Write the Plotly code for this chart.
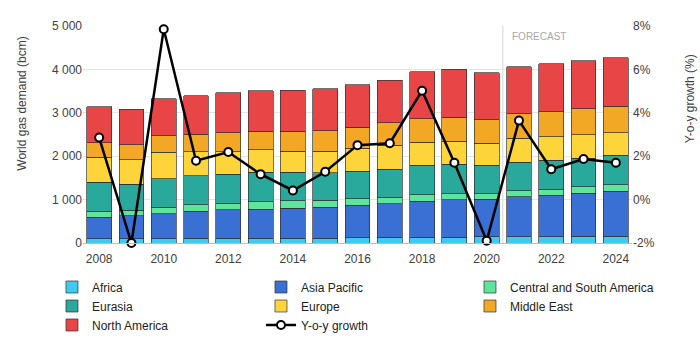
import plotly.graph_objects as go

# World gas demand by region (bcm) and year-on-year growth (%)
years = list(range(2008, 2025))

africa = [100, 100, 100, 107, 107, 107, 107, 115, 123, 130, 138, 138, 146, 146, 146, 153, 161]
asia_pacific = [498, 529, 575, 629, 660, 675, 691, 706, 744, 775, 828, 859, 866, 920, 951, 990, 1028]
central_south_america = [138, 123, 153, 146, 153, 169, 176, 168, 153, 153, 146, 138, 123, 138, 138, 153, 153]
eurasia = [660, 605, 652, 667, 667, 675, 652, 629, 636, 644, 682, 682, 652, 659, 667, 652, 675]
europe = [575, 560, 606, 552, 514, 521, 483, 491, 522, 553, 530, 530, 514, 553, 552, 544, 529]
middle_east = [337, 345, 383, 407, 445, 430, 468, 483, 491, 521, 544, 552, 544, 567, 567, 598, 606]
north_america = [836, 821, 859, 882, 913, 928, 943, 966, 981, 974, 1074, 1104, 1081, 1081, 1105, 1105, 1120]

growth = [2.86, -2.0, 7.85, 1.79, 2.19, 1.17, 0.42, 1.28, 2.51, 2.60, 5.02, 1.70, -1.9, 3.64, 1.40, 1.87, 1.70]

x_ticks = list(range(2008, 2025, 2))
growth_ticks = [-2, 0, 2, 4, 6, 8]
growth_tick_text = ["-2%", "0%", "2%", "4%", "6%", "8%"]

forecast_start = 2020.5

FONT = "Liberation Sans, Arial, sans-serif"
TEXT = "#404040"

# name, values, colour, legend column
regions = [
    ("Africa", africa, "#3fcaf0", "c1"),
    ("Asia Pacific", asia_pacific, "#3a6fd3", "c2"),
    ("Central and South America", central_south_america, "#5ee59c", "c3"),
    ("Eurasia", eurasia, "#29a89c", "c1"),
    ("Europe", europe, "#fdd43a", "c2"),
    ("Middle East", middle_east, "#f2a725", "c3"),
    ("North America", north_america, "#e84547", "c1"),
]

fig = go.Figure()

for name, values, color, column in regions:
    fig.add_trace(go.Bar(
        x=years, y=values, name=name, legendgroup=column,
        legendwidth=150 if column == "c3" else None,
        marker=dict(color=color, line=dict(color="rgba(45,45,45,0.85)", width=0.8)),
    ))

fig.add_trace(go.Scatter(
    x=years, y=growth, name="Y-o-y growth", yaxis="y2", legendgroup="c2",
    mode="lines+markers", cliponaxis=False,
    line=dict(color="black", width=2.5),
    marker=dict(size=8, color="white", line=dict(color="black", width=2)),
))

fig.add_shape(
    type="line", xref="x", yref="paper", x0=forecast_start, x1=forecast_start, y0=0, y1=1,
    line=dict(color="#d4d4d4", width=1), layer="below",
)
fig.add_annotation(
    x=forecast_start, y=4750, xref="x", yref="y", text="FORECAST", showarrow=False,
    xanchor="left", xshift=7, font=dict(family=FONT, size=10, color="#a8a8a8"),
)

# Axis titles, placed in the margins
fig.add_annotation(
    x=-0.1117, y=0.645, xref="paper", yref="paper", text="World gas demand (bcm)",
    textangle=-90, showarrow=False, xanchor="center", yanchor="middle",
    font=dict(family=FONT, size=12, color=TEXT),
)
fig.add_annotation(
    x=1.1069, y=0.666, xref="paper", yref="paper", text="Y-o-y growth (%)",
    textangle=-90, showarrow=False, xanchor="center", yanchor="middle",
    font=dict(family=FONT, size=12, color=TEXT),
)

fig.update_layout(
    width=700, height=339,
    margin=dict(l=83, r=68, t=26, b=96, autoexpand=False),
    paper_bgcolor="white", plot_bgcolor="white",
    barmode="stack", bargap=0.23,
    separators=". ",
    font=dict(family=FONT, size=12, color=TEXT),
    xaxis=dict(
        range=[2007.5, 2024.5], tickmode="array", tickvals=x_ticks,
        showgrid=False, showline=True, linecolor="#bdbdbd", linewidth=1,
        ticks="", zeroline=False, ticklabelstandoff=5,
        tickfont=dict(size=12, color=TEXT),
    ),
    yaxis=dict(
        range=[0, 5000], dtick=1000, tickformat=",d",
        showgrid=True, gridcolor="#e4e4e4", gridwidth=1, zeroline=False,
        ticks="", tickfont=dict(size=12, color=TEXT),
    ),
    yaxis2=dict(
        overlaying="y", side="right", range=[-2, 8],
        tickmode="array", tickvals=growth_ticks, ticktext=growth_tick_text,
        showgrid=False, zeroline=False, ticks="",
        tickfont=dict(size=12, color=TEXT),
    ),
    legend=dict(
        orientation="h", traceorder="grouped",
        x=-0.0565, xanchor="left", y=-0.136, yanchor="top",
        entrywidth=164, tracegroupgap=0,
        font=dict(size=12, color="#222222"),
        bgcolor="rgba(0,0,0,0)",
    ),
    showlegend=True,
)

fig.write_html("out.html")
